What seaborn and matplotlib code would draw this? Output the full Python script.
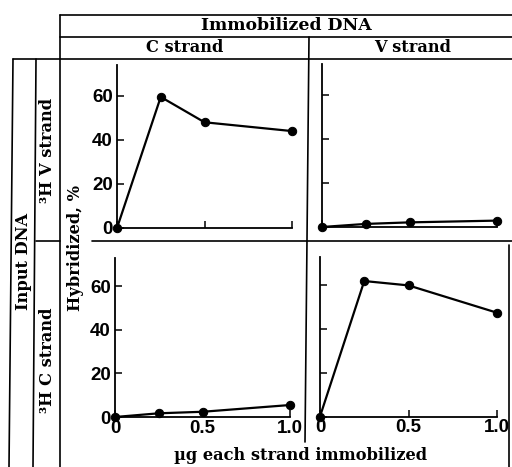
import matplotlib
matplotlib.use("Agg")
import matplotlib.pyplot as plt
from matplotlib.lines import Line2D
import seaborn as sns

# ug of each strand immobilized
dose = [0, 0.25, 0.5, 1.0]
# % hybridized, input 3H V strand
v_on_c = [0, 59.5, 48, 44]
v_on_v = [0, 1.4, 2.1, 2.9]
# % hybridized, input 3H C strand
c_on_c = [0, 1.7, 2.4, 5.5]
c_on_v = [0, 62, 60, 47.5]

yticks = [0, 20, 40, 60]
xticks = [0, 0.5, 1.0]
xticklabels = ["0", "0.5", "1.0"]

sns.set_style("ticks")
plt.rcParams['font.family'] = ['DejaVu Serif']
plt.rcParams.update({'text.color': 'black', 'axes.edgecolor': 'black',
                     'xtick.color': 'black', 'ytick.color': 'black'})

W, H = 512, 467
fig = plt.figure(figsize=(W / 100, H / 100), dpi=100)

serif = dict(family='DejaVu Serif', weight='bold', size=11.7, color='black')
sans = dict(family='Liberation Sans', weight='bold', size=13.5, color='black')


def px_axes(x0, x1, y0, ytop):
    return fig.add_axes([x0 / W, 1 - y0 / H, (x1 - x0) / W, (y0 - ytop) / H])


def hline(y, x0, x1, lw=1.2):
    fig.add_artist(Line2D([x0 / W, x1 / W], [1 - y / H, 1 - y / H], color='black', lw=lw))


def vline(x0, y0, x1, y1, lw=1.2):
    fig.add_artist(Line2D([x0 / W, x1 / W], [1 - y0 / H, 1 - y1 / H], color='black', lw=lw))


def panel(ax, y, ylab, xlab, ymax):
    sns.lineplot(x=dose, y=y, ax=ax, color='black', marker='o', markersize=6,
                 linewidth=1.6, markeredgecolor='black', clip_on=False)
    ax.set_xlim(0, 1.0)
    ax.set_ylim(0, ymax)
    sns.despine(ax=ax)
    for s in ('left', 'bottom'):
        ax.spines[s].set_linewidth(1.3)
        ax.spines[s].set_color('black')
    ax.set_yticks(yticks)
    ax.set_xticks(xticks)
    ax.tick_params(direction='in', length=5, width=1.1, pad=3, colors='black')
    if ylab:
        ax.set_yticklabels([str(t) for t in yticks], fontdict=sans)
    else:
        ax.set_yticklabels([])
    if xlab:
        ax.set_xticklabels(xticklabels, fontdict=sans)
        ax.tick_params(axis='x', pad=2)
    else:
        ax.set_xticklabels([])
    ax.set_xlabel("")
    ax.set_ylabel("")
    ax.patch.set_alpha(0)


panel(px_axes(117, 292, 228, 65), v_on_c, True, False, 74)
panel(px_axes(322, 497, 227, 64), v_on_v, False, False, 74)
panel(px_axes(115, 290, 417, 258), c_on_c, True, True, 73)
panel(px_axes(320, 497, 416.5, 257), c_on_v, False, True, 73)

# table frame
hline(15, 60, 512)
hline(37, 60, 512)
hline(59, 13, 512)
hline(241, 36, 60)
hline(241, 92, 512)
vline(60, 15, 60, 467)
vline(13, 59, 9, 467)
vline(36, 59, 33, 467)
vline(309, 37, 305, 442)
vline(509, 245, 509, 467)

fig.text(286 / W, 1 - 26 / H, "Immobilized DNA", ha='center', va='center',
         **{**serif, 'size': 12.4})
fig.text(185 / W, 1 - 48 / H, "C strand", ha='center', va='center', **serif)
fig.text(413 / W, 1 - 48 / H, "V strand", ha='center', va='center', **serif)
fig.text(24 / W, 1 - 261 / H, "Input DNA", ha='center', va='center', rotation=90, **serif)
fig.text(48 / W, 1 - 150 / H, "³H V strand", ha='center', va='center', rotation=90, **serif)
fig.text(48 / W, 1 - 360 / H, "³H C strand", ha='center', va='center', rotation=90, **serif)
fig.text(76 / W, 1 - 248 / H, "Hybridized, %", ha='center', va='center', rotation=90, **serif)
fig.text(301 / W, 1 - 456 / H, "µg each strand immobilized", ha='center', va='center', **serif)

fig.savefig("out.png", dpi=100)
